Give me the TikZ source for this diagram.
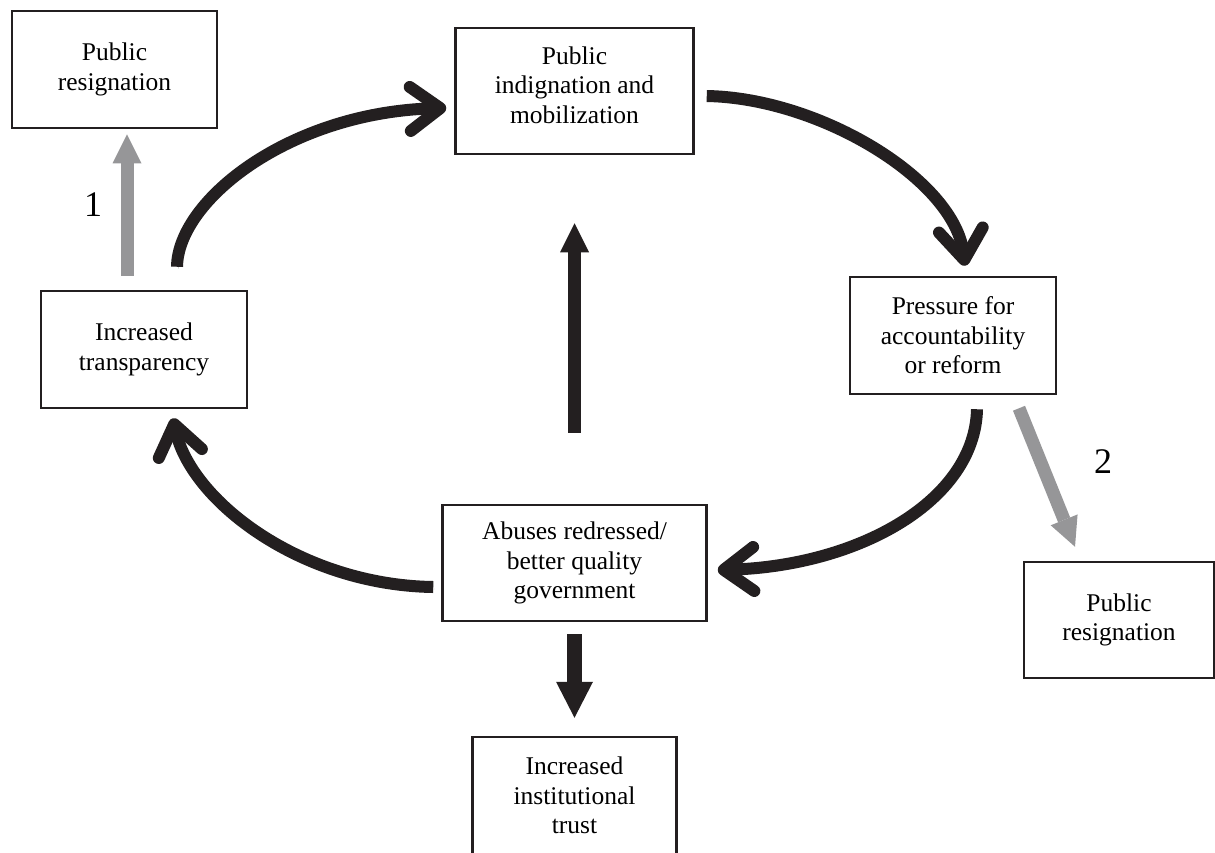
\documentclass[tikz,border=0pt]{standalone}
\usepackage{fontspec}
\setmainfont{Liberation Serif}
\usetikzlibrary{arrows.meta}
\definecolor{darkline}{RGB}{35,31,32}
\definecolor{arrowgray}{RGB}{150,150,152}

\begin{document}
\begin{tikzpicture}[x=1pt, y=-1pt,
    flowbox/.style={draw=darkline, line width=2.5pt, align=center, inner sep=0pt,
      font=\fontsize{25.5}{29.5}\selectfont},
    cycarrow/.style={draw=darkline, line width=12pt,
      -{Straight Barb[length=30pt, width=44pt, round]},
      preaction={draw=black!30, transform canvas={shift={(1.5pt,-2pt)}}}},
    blockarrow/.style={draw=darkline, line width=13pt,
      -{Triangle[length=29pt, width=29pt, line width=0pt]}},
    grayarrow/.style={draw=arrowgray, line width=13pt,
      -{Triangle[length=29pt, width=29pt, line width=0pt]}},
    numlabel/.style={font=\fontsize{36}{36}\selectfont}]
    \useasboundingbox (0,0) rectangle (1215,852);

    % Boxes
    \node[flowbox, minimum width=205pt, minimum height=117pt] (resignA) at (114.5,69.5) {Public\\resignation};
    \node[flowbox, minimum width=238pt, minimum height=126pt, text depth=12pt] (indignation) at (574.5,91) {Public\\indignation and\\mobilization};
    \node[flowbox, minimum width=206pt, minimum height=117pt] (transparency) at (144,349.5) {Increased\\transparency};
    \node[flowbox, minimum width=206pt, minimum height=117pt] (pressure) at (953,335.5) {Pressure for\\accountability\\or reform};
    \node[flowbox, minimum width=264pt, minimum height=116pt] (abuses) at (574.5,563) {Abuses redressed/\\better quality\\government};
    \node[flowbox, minimum width=190pt, minimum height=116pt] (resignB) at (1119,620) {Public\\resignation};
    \node[flowbox, minimum width=204pt, minimum height=117pt] (trust) at (574.5,795.5) {Increased\\institutional\\trust};

    % Numbers
    \node[numlabel] (lab1) at (93,205) {1};
    \node[numlabel] (lab2) at (1103,462) {2};

    % Cycle
    \draw[cycarrow] ([xshift=33pt, yshift=23pt]transparency.north)
      .. controls (178,200) and (290,112) .. ([xshift=-8pt, yshift=-17pt]indignation.west);
    \draw[cycarrow] ([xshift=12pt, yshift=-5pt]indignation.east)
      .. controls (820,98) and (955,180) .. ([xshift=12pt, yshift=10pt]pressure.north);
    \draw[cycarrow] ([xshift=24pt, yshift=-14pt]pressure.south)
      .. controls (975,500) and (860,566) .. ([xshift=10pt, yshift=-7pt]abuses.east);
    \draw[cycarrow] ([xshift=-8pt, yshift=-24pt]abuses.west)
      .. controls (300,585) and (190,500) .. ([xshift=29pt, yshift=-9pt]transparency.south);

    % Straight arrows
    \draw[blockarrow] ([yshift=71pt]abuses.north) -- ([yshift=-68pt]indignation.south);
    \draw[blockarrow, line width=15pt, -{Triangle[length=36pt, width=37pt, line width=0pt]}]
      ([yshift=-12pt]abuses.south) -- ([yshift=18pt]trust.north);

    % Resignation branches
    \draw[grayarrow] ([xshift=-17pt, yshift=14pt]transparency.north) -- ([xshift=12.5pt, yshift=-5pt]resignA.south);
    \draw[grayarrow] ([xshift=66pt, yshift=-13pt]pressure.south) -- ([xshift=-44pt, yshift=14pt]resignB.north);
\end{tikzpicture}
\end{document}
